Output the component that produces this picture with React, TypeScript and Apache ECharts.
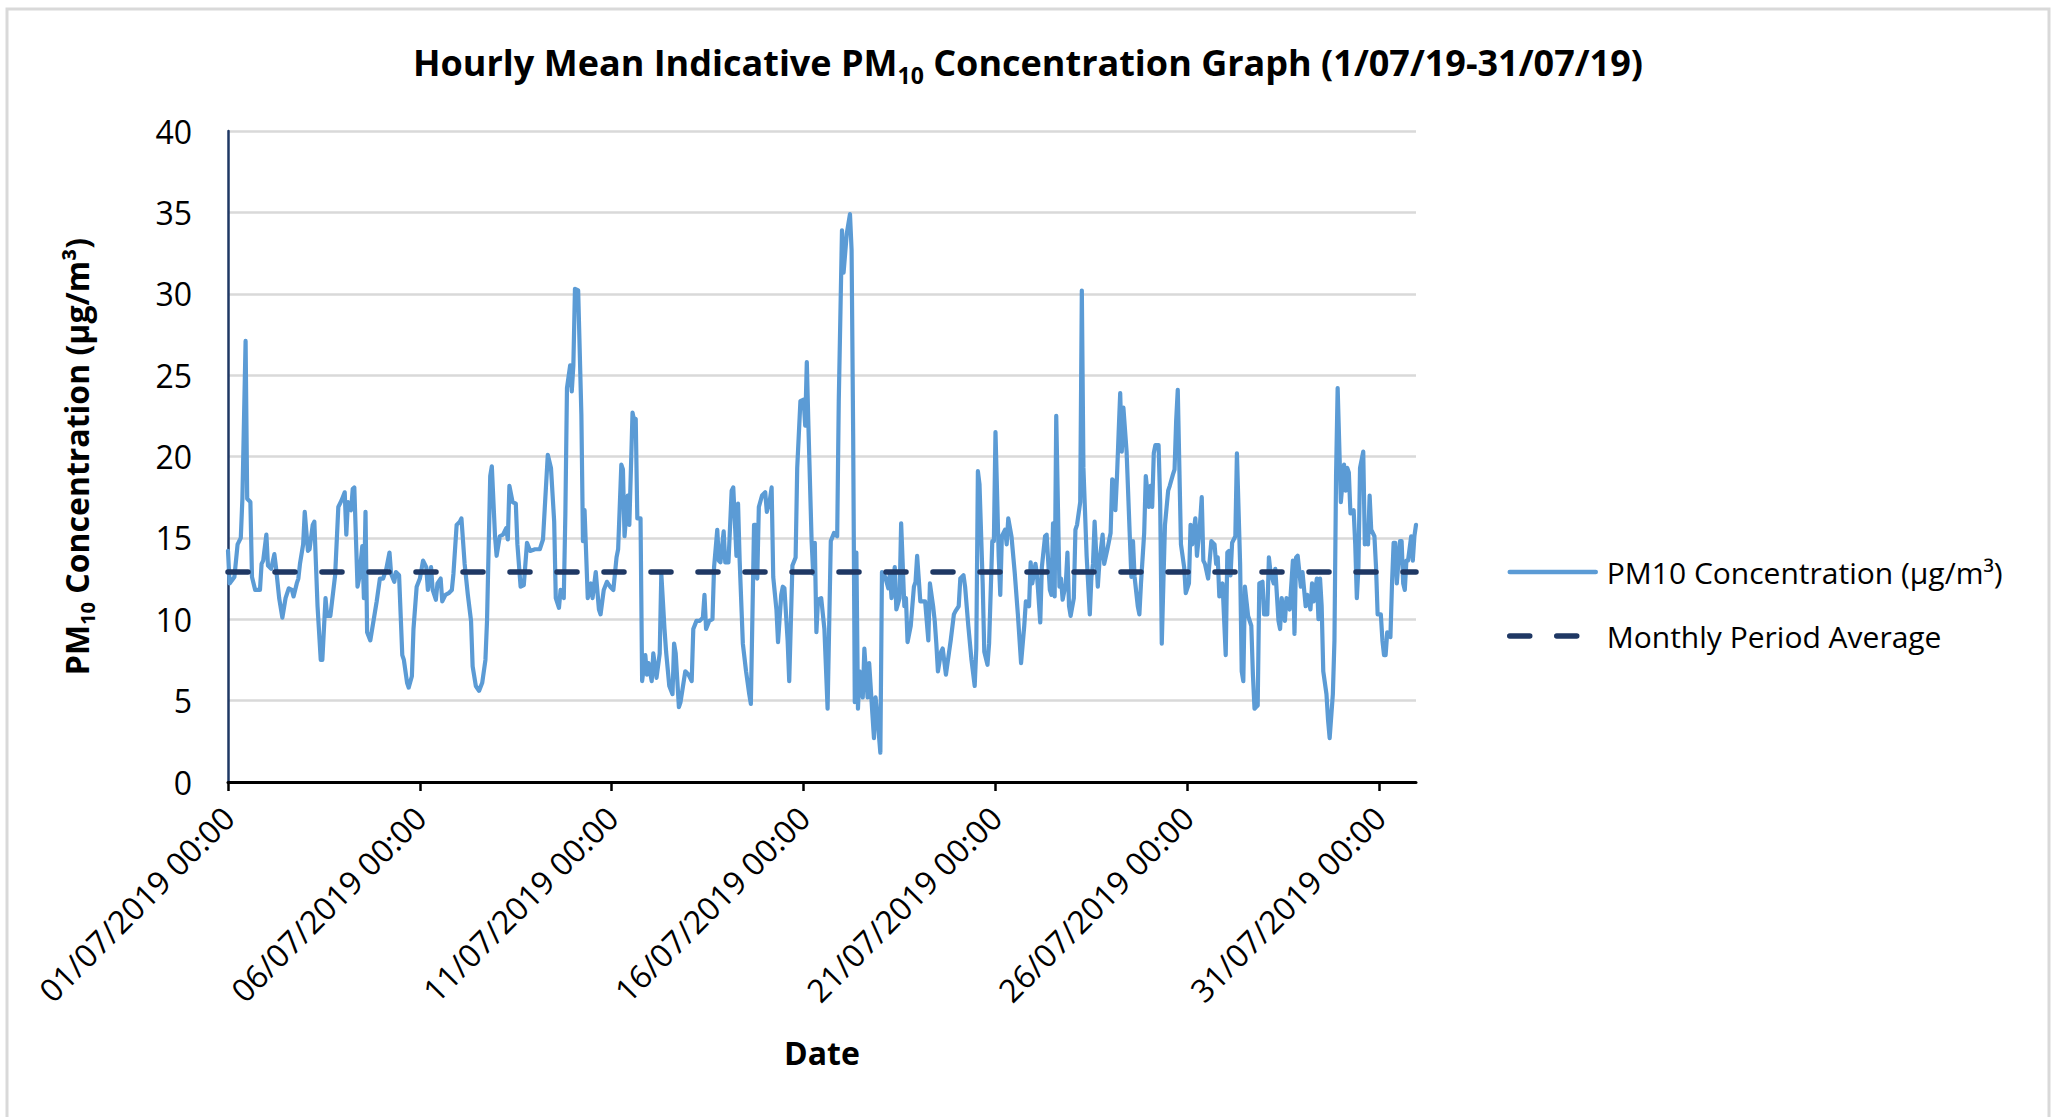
import React, { useEffect, useRef } from 'react';
import * as echarts from 'echarts';

const FONT = '"Open Sans", "Noto Sans", sans-serif';

// Hours since 01/07/2019 00:00
const hours = [
  0, 1, 4, 6, 8, 9, 11, 12, 14, 15,
  17, 20, 21, 22, 24, 25, 27, 29, 30, 32,
  34, 36, 38, 40, 41, 43, 44, 45, 47, 48,
  50, 51, 53, 54, 56, 58, 59, 61, 62, 64,
  67, 69, 71, 73, 74, 75, 77, 78, 79, 81,
  82, 84, 85, 86, 87, 89, 91, 93, 95, 97,
  99, 101, 102, 104, 105, 107, 109, 110, 112, 113,
  115, 116, 118, 120,
  122, 124, 125, 127, 128, 130, 131, 133, 134, 136,
  138, 140, 141, 143, 145, 146, 148, 150, 152, 153,
  155, 157, 159, 161, 162, 164, 165, 167, 168, 170,
  172, 174, 175, 176, 178, 180, 181, 183, 185, 187,
  189, 192, 195, 197, 200, 202, 204, 205, 207, 208,
  210, 211, 212, 214, 215, 216, 217, 219, 221, 222,
  223, 225, 227, 228, 230, 232, 233, 235, 237, 239,
  241, 243, 244, 246, 247,
  248, 250, 251, 253, 254, 255, 256, 258, 259, 261,
  262, 263, 265, 266, 268, 270, 271, 273, 274, 276,
  278, 279, 280, 282, 283, 286, 288, 290, 291, 293,
  295, 297, 298, 299, 301, 303, 304, 306, 307, 308,
  310, 311, 313, 315, 316, 318, 319, 320, 322, 324,
  326, 327, 329, 330, 331, 332, 334, 336, 337, 339,
  340, 341, 343, 344, 346, 347, 348, 350, 351, 353,
  355, 356, 358, 360, 361, 362, 363, 365, 366, 367,
  368, 369,
  371, 373, 375, 377, 379, 381, 382, 384, 385, 387,
  389, 390, 391, 392, 393, 394, 395, 397, 398, 400,
  401, 403, 404, 405, 406, 408, 409, 411, 413, 414,
  415, 417, 418, 420, 421, 423, 424, 425, 427, 429,
  430, 431, 433, 434, 436, 438, 439, 441, 442, 443,
  444, 446, 447, 449, 451, 452, 454, 455, 457, 458,
  460, 461, 463, 465, 467, 468, 469, 470, 472, 473,
  475, 476, 478, 479, 480, 482, 483, 484, 486, 487,
  488, 490, 492, 494,
  496, 498, 499, 501, 502, 503, 505, 506, 508, 509,
  511, 512, 514, 515, 516, 517, 518, 520, 521, 522,
  524, 525, 526, 527, 529, 530, 531, 533, 534, 535,
  537, 539, 540, 541, 542, 544, 545, 547, 548, 550,
  552, 553, 554, 555, 556, 557, 558, 559, 560, 562,
  564, 565, 566, 567, 569, 570, 571, 573, 574, 576,
  577, 578, 579, 580, 582, 583, 584, 585, 586, 588,
  589, 591, 592, 593, 594, 595, 596, 598, 599, 601,
  602, 603, 605, 606, 608, 609, 610, 611,
  613, 615, 617, 618, 619, 620, 622, 624, 625, 626,
  627, 628, 630, 631, 633, 634, 635, 636, 638, 640,
  641, 642, 643, 644, 645, 647, 648, 650, 651, 652,
  654, 655, 657, 658, 659, 661, 662, 664, 666, 667,
  668, 669, 671, 672, 674, 675, 677, 678, 679, 681,
  682, 683, 684, 685, 687, 688, 689, 691, 692, 693,
  694, 695, 696, 698, 699, 700, 701, 702, 704, 705,
  706, 707, 708, 710, 711, 712, 713, 714, 715, 717,
  718, 719, 721, 722, 723, 724, 725, 727, 728, 729,
  730, 731, 733, 734, 735, 736, 737, 738, 740, 741,
  742, 743,
];

const pm10 = [
  14.2, 12.2, 12.6, 14.6, 15.0, 17.4, 27.1, 17.4, 17.2, 12.6,
  11.8, 11.8, 13.4, 13.6, 15.2, 13.3, 13.1, 14.0, 13.2, 11.3,
  10.1, 11.3, 11.9, 11.8, 11.4, 12.2, 12.5, 13.4, 14.6, 16.6,
  14.2, 14.3, 15.8, 16.0, 10.8, 7.5, 7.5, 11.3, 10.2, 10.2,
  12.7, 16.9, 17.3, 17.8, 15.2, 17.2, 16.7, 18.0, 18.1, 12.0,
  12.5, 14.5, 11.3, 16.6, 9.2, 8.7, 9.9, 11.1, 12.5, 12.5,
  13.1, 14.1, 12.8, 12.3, 12.9, 12.7, 7.8, 7.5, 6.1, 5.8,
  6.5, 9.4, 12.0, 12.5,
  13.6, 13.2, 11.8, 13.2, 11.8, 11.2, 12.2, 12.5, 11.1, 11.5,
  11.6, 11.8, 12.8, 15.8, 16.0, 16.2, 13.4, 11.5, 9.9, 7.1,
  5.9, 5.6, 6.1, 7.5, 9.9, 18.8, 19.4, 15.1, 13.9, 15.1,
  15.2, 15.6, 14.9, 18.2, 17.2, 17.1, 14.6, 12.0, 12.1, 14.7,
  14.2, 14.3, 14.3, 14.9, 20.1, 19.3, 16.0, 11.3, 10.7, 11.8,
  11.3, 16.5, 24.2, 25.6, 24.0, 25.6, 30.3, 30.2, 22.6, 14.8,
  16.7, 11.3, 12.2, 11.3, 12.9, 10.6, 10.3, 11.8, 12.3, 12.0,
  11.8, 13.8, 14.3, 19.5, 19.2,
  15.1, 17.6, 15.8, 22.7, 22.2, 22.3, 16.2, 16.2, 6.2, 7.8,
  6.6, 7.3, 6.2, 7.9, 6.4, 7.9, 12.8, 9.4, 8.0, 5.9,
  5.4, 8.5, 7.9, 4.6, 4.9, 6.8, 6.6, 6.2, 9.4, 9.9,
  9.9, 10.1, 11.5, 9.4, 9.9, 10.0, 13.2, 15.5, 13.6, 13.5,
  15.4, 13.5, 13.5, 17.9, 18.1, 13.9, 17.1, 13.6, 8.5, 6.8,
  5.4, 4.8, 15.8, 15.8, 12.5, 16.9, 17.6, 17.8, 16.6, 17.4,
  18.1, 12.6, 10.6, 8.6, 11.5, 12.0, 11.9, 8.7, 6.2, 13.3,
  13.8, 19.3, 23.4, 23.5, 21.9, 25.8, 21.9, 14.8, 12.8, 14.7,
  9.2, 11.2,
  11.3, 9.4, 4.5, 14.8, 15.3, 15.1, 23.5, 33.9, 31.3, 33.7,
  34.9, 32.7, 21.2, 4.9, 14.1, 4.5, 6.8, 5.2, 8.2, 5.2,
  7.3, 4.2, 2.7, 5.2, 4.2, 1.8, 12.9, 12.6, 11.9, 12.8,
  11.3, 13.2, 10.6, 11.3, 15.9, 10.8, 11.3, 8.6, 9.6, 12.0,
  12.3, 13.9, 11.1, 11.1, 11.1, 8.7, 12.2, 10.8, 9.9, 8.5,
  6.8, 8.0, 8.2, 6.6, 8.0, 8.7, 10.3, 10.5, 10.8, 12.5,
  12.7, 12.0, 9.6, 7.5, 5.9, 8.2, 19.1, 18.3, 12.2, 8.0,
  7.2, 8.5, 14.8, 14.8, 21.5, 13.9, 11.5, 15.1, 15.5, 14.6,
  16.2, 15.1, 12.9, 10.3,
  7.3, 9.6, 11.1, 10.8, 13.5, 12.2, 13.4, 12.7, 9.8, 13.2,
  15.1, 15.2, 11.8, 11.5, 15.9, 11.4, 22.5, 12.0, 12.5, 11.2,
  12.2, 14.1, 10.8, 10.2, 11.3, 15.5, 15.8, 17.2, 30.2, 19.3,
  13.9, 10.3, 12.6, 13.4, 16.0, 12.0, 13.5, 15.2, 13.4, 14.3,
  15.3, 18.6, 18.5, 16.7, 18.8, 21.4, 23.9, 20.3, 23.0, 20.3,
  15.1, 12.6, 14.8, 12.6, 10.8, 10.3, 12.2, 15.3, 18.8, 16.9,
  18.2, 16.9, 20.2, 20.7, 20.7, 17.2, 8.5, 12.2, 15.8, 17.9,
  18.2, 18.9, 19.2, 22.2, 24.1, 19.3, 14.6, 13.2, 11.6, 12.2,
  15.8, 14.6, 16.2, 13.9, 16.0, 17.5, 13.6, 13.4,
  12.5, 14.8, 14.6, 13.4, 13.8, 11.4, 12.2, 7.8, 14.1, 14.2,
  12.7, 14.7, 15.1, 20.2, 13.4, 6.8, 6.2, 12.0, 10.2, 9.6,
  6.6, 4.5, 4.6, 4.7, 12.2, 12.3, 10.3, 10.3, 13.8, 12.9,
  12.2, 13.1, 9.9, 9.4, 11.3, 9.9, 11.3, 10.6, 13.6, 9.1,
  13.8, 13.9, 12.0, 12.9, 10.8, 11.5, 10.6, 12.2, 11.1, 12.5,
  10.0, 12.5, 10.8, 6.8, 5.4, 3.8, 2.7, 5.4, 8.7, 18.8,
  24.2, 20.7, 17.2, 19.5, 17.9, 19.3, 19.0, 16.5, 16.7, 14.6,
  11.3, 13.2, 19.3, 20.3, 14.6, 15.5, 14.6, 17.6, 15.5, 15.1,
  13.2, 10.3, 10.3, 8.7, 7.8, 7.8, 9.2, 8.9, 12.2, 14.7,
  14.7, 12.2, 14.8, 14.8, 12.2, 11.8, 13.6, 13.6, 15.1, 13.6,
  15.1, 15.8,
];

const monthlyAverage = 12.9;
const firstHour = 0;
const lastHour = 743;

const tickHours = [0, 120, 240, 360, 480, 600, 720];
const tickLabels = [
  '01/07/2019 00:00',
  '06/07/2019 00:00',
  '11/07/2019 00:00',
  '16/07/2019 00:00',
  '21/07/2019 00:00',
  '26/07/2019 00:00',
  '31/07/2019 00:00',
];

const seriesNames = ['PM10 Concentration (µg/m³)', 'Monthly Period Average'];

const PM_COLOR = '#5b9bd5';
const AVG_COLOR = '#1f3864';
const AVG_DASH = [20, 27];

export default function App() {
  const ref = useRef<HTMLDivElement>(null);

  useEffect(() => {
    if (!ref.current) return;
    const chart = echarts.init(ref.current, null, { renderer: 'svg' });
    const lineData = hours.map((h, i) => [h, pm10[i]]);
    const avgData = [
      [firstHour, monthlyAverage],
      [lastHour, monthlyAverage],
    ];

    chart.setOption({
      animation: false,
      backgroundColor: '#ffffff',
      textStyle: { fontFamily: FONT },
      graphic: [
        {
          type: 'rect',
          shape: { x: 7, y: 9, width: 2042, height: 1130 },
          style: { fill: 'none', stroke: '#d9d9d9', lineWidth: 3 },
          silent: true,
        },
      ],
      title: {
        text: '{a|Hourly Mean Indicative PM}{s|10}{a| Concentration Graph (1/07/19-31/07/19)}',
        left: 'center',
        top: 33,
        textStyle: {
          rich: {
            a: { fontSize: 36, fontWeight: 'bold', fontFamily: FONT, color: '#000', lineHeight: 48 },
            s: { fontSize: 23, fontWeight: 'bold', fontFamily: FONT, color: '#000', lineHeight: 24, verticalAlign: 'bottom' },
          },
        },
      },
      legend: {
        orient: 'vertical',
        left: 1502,
        top: 552,
        itemWidth: 86,
        itemHeight: 36,
        itemGap: 34,
        data: [
          {
            name: seriesNames[0],
            itemStyle: { opacity: 0 },
            lineStyle: { color: PM_COLOR, width: 4.5, cap: 'round' },
          },
          {
            name: seriesNames[1],
            itemStyle: { opacity: 0 },
            lineStyle: { color: AVG_COLOR, width: 5.5, type: AVG_DASH, cap: 'round' },
          },
        ],
        textStyle: { fontSize: 30, fontFamily: FONT, color: '#000', padding: [0, 0, 0, 6] },
      },
      grid: { left: 228, top: 131, width: 1188, height: 651, containLabel: false },
      xAxis: {
        type: 'value',
        min: firstHour,
        max: lastHour,
        name: 'Date',
        nameLocation: 'middle',
        nameGap: 251,
        nameTextStyle: { fontSize: 32, fontWeight: 'bold', color: '#000', fontFamily: FONT, lineHeight: 38 },
        axisLine: { show: true, onZero: false, lineStyle: { color: '#000', width: 3 } },
        axisTick: { show: true, length: 9, customValues: tickHours, lineStyle: { color: '#000', width: 2.5 } },
        axisLabel: {
          customValues: tickHours,
          rotate: 45,
          margin: 30,
          fontSize: 32,
          color: '#000',
          fontFamily: FONT,
          formatter: (v: number) => {
            const idx = tickHours.indexOf(Math.round(v));
            return idx >= 0 ? tickLabels[idx] : '';
          },
        },
        splitLine: { show: false },
      },
      yAxis: {
        type: 'value',
        min: 0,
        max: 40,
        interval: 5,
        name: '{a|PM}{s|10}{a| Concentration (µg/m³)}',
        nameLocation: 'middle',
        nameRotate: 90,
        nameGap: 131,
        nameTextStyle: {
          rich: {
            a: { fontSize: 32, fontWeight: 'bold', fontFamily: FONT, color: '#000', lineHeight: 42 },
            s: { fontSize: 20, fontWeight: 'bold', fontFamily: FONT, color: '#000', lineHeight: 22, verticalAlign: 'bottom' },
          },
        },
        axisLine: { show: true, lineStyle: { color: AVG_COLOR, width: 2.5 } },
        axisTick: { show: false },
        axisLabel: { fontSize: 32, color: '#000', fontFamily: FONT, margin: 36 },
        splitLine: { show: true, lineStyle: { color: '#d9d9d9', width: 2.5 } },
      },
      series: [
        {
          name: seriesNames[0],
          type: 'line',
          data: lineData,
          symbol: 'none',
          showSymbol: false,
          lineStyle: { color: PM_COLOR, width: 4.2, join: 'round', cap: 'round' },
          itemStyle: { color: PM_COLOR },
        },
        {
          name: seriesNames[1],
          type: 'line',
          data: avgData,
          symbol: 'none',
          showSymbol: false,
          lineStyle: { color: AVG_COLOR, width: 5.5, type: AVG_DASH, cap: 'round' },
          itemStyle: { color: AVG_COLOR },
          z: 3,
        },
      ],
    });

    return () => chart.dispose();
  }, []);

  return (
    <div
      ref={ref}
      style={{ position: 'fixed', left: 0, top: 0, width: 2056, height: 1117, background: '#fff' }}
    />
  );
}
